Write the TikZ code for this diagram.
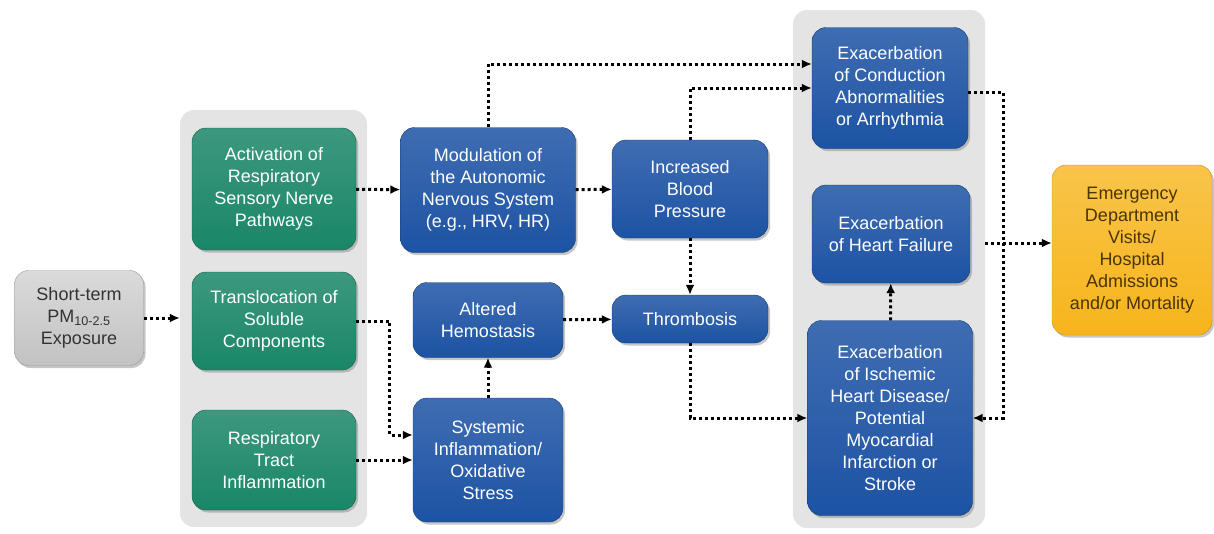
\documentclass[tikz,border=0pt]{standalone}
\usepackage{fontspec}
\setmainfont{Liberation Sans}
\usepackage{tikz}
\usetikzlibrary{arrows.meta,positioning,shadows}

\definecolor{resgreen}{HTML}{1A8668}
\definecolor{cvblue}{HTML}{1D53A4}
\definecolor{expgray}{HTML}{C2C2C2}
\definecolor{outyellow}{HTML}{F7B51C}
\definecolor{panelgray}{HTML}{E4E4E4}
\definecolor{outtext}{HTML}{4A3500}

\begin{document}
\begin{tikzpicture}[
    x=1pt, y=-1pt,
    panel/.style={fill=panelgray,rounded corners=14pt,inner sep=0pt},
    box/.style={rounded corners=14pt,align=center,inner sep=2pt,
      font=\fontsize{18}{22}\selectfont,
      drop shadow={shadow xshift=2pt,shadow yshift=-2.5pt,opacity=.45}},
    expbox/.style={box,top color=expgray!60!white,bottom color=expgray,draw=gray!80,text=black!80},
    resbox/.style={box,top color=resgreen!85!white,bottom color=resgreen,draw=resgreen!70!black,text=white},
    cvbox/.style={box,top color=cvblue!85!white,bottom color=cvblue,draw=cvblue!70!black,text=white},
    outbox/.style={box,top color=outyellow!80!white,bottom color=outyellow,draw=outyellow!80!black,text=outtext},
    flow/.style={-{Latex[length=10pt,width=9pt]},line width=3pt,dash pattern=on 3pt off 3pt}]
  \useasboundingbox (0,0) rectangle (1214,533);

  \node[panel,minimum width=187pt,minimum height=417pt] (lpanel) at (273.5,318.5) {};
  \node[panel,minimum width=192pt,minimum height=518pt] (rpanel) at (889,269) {};

  \node[expbox,minimum width=129pt,minimum height=95pt] (short) at (79,318)
    {Short-term\\PM\textsubscript{10-2.5}\\Exposure};

  \node[resbox,minimum width=164pt,minimum height=122pt] (act) at (274,189)
    {Activation of\\Respiratory\\Sensory Nerve\\Pathways};
  \node[resbox,minimum width=164pt,minimum height=98pt] (trans) at (274,321)
    {Translocation of\\Soluble\\Components};
  \node[resbox,minimum width=164pt,minimum height=100pt] (resp) at (274,460)
    {Respiratory\\Tract\\Inflammation};

  \node[cvbox,minimum width=175pt,minimum height=125pt] (mod) at (488,190)
    {Modulation of\\the Autonomic\\Nervous System\\(e.g., HRV, HR)};
  \node[cvbox,minimum width=150pt,minimum height=75pt] (alt) at (488,320)
    {Altered\\Hemostasis};
  \node[cvbox,minimum width=150pt,minimum height=124pt] (sys) at (488,460)
    {Systemic\\Inflammation/\\Oxidative\\Stress};
  \node[cvbox,minimum width=156pt,minimum height=98pt] (bp) at (690,189)
    {Increased\\Blood\\Pressure};
  \node[cvbox,minimum width=156pt,minimum height=48pt] (thr) at (690,319)
    {Thrombosis};

  \node[cvbox,minimum width=156pt,minimum height=121pt] (cond) at (890,88)
    {Exacerbation\\of Conduction\\Abnormalities\\or Arrhythmia};
  \node[cvbox,minimum width=158pt,minimum height=98pt] (hf) at (891,234)
    {Exacerbation\\of Heart Failure};
  \node[cvbox,minimum width=165pt,minimum height=195pt] (isch) at (890,418)
    {Exacerbation\\of Ischemic\\Heart Disease/\\Potential\\Myocardial\\Infarction or\\Stroke};

  \node[outbox,minimum width=160pt,minimum height=170pt] (ed) at (1132,250)
    {Emergency\\Department\\Visits/\\Hospital\\Admissions\\and/or Mortality};

  \coordinate (topline) at (0,64);
  \coordinate (rbus) at (1003,0);
  \path ([yshift=7pt]ed.west) coordinate (edin);

  \draw[flow] (short.east) -- (lpanel.west |- short.east);
  \draw[flow] (act) -- (mod);
  \draw[flow] (mod) -- (bp);
  \draw[flow] (mod.north) |- (topline -| cond.west);
  \draw[flow] (bp.north) |- (cond.west);
  \draw[flow] (bp) -- (thr);
  \draw[flow] (alt) -- (thr);
  \draw[flow] (sys) -- (alt);
  \draw[flow] (trans.east) -| ([xshift=-23pt,yshift=25pt]sys.west) -- ([yshift=25pt]sys.west);
  \draw[flow] (resp) -- (sys);
  \draw[flow] (thr.south) |- (isch.west);
  \draw[flow] (isch) -- (hf);
  \draw[flow] ([yshift=-4pt]cond.east) -| (rbus |- isch.east) -- (isch.east);
  \draw[flow] (edin -| rpanel.east) -- (edin);
\end{tikzpicture}
\end{document}
